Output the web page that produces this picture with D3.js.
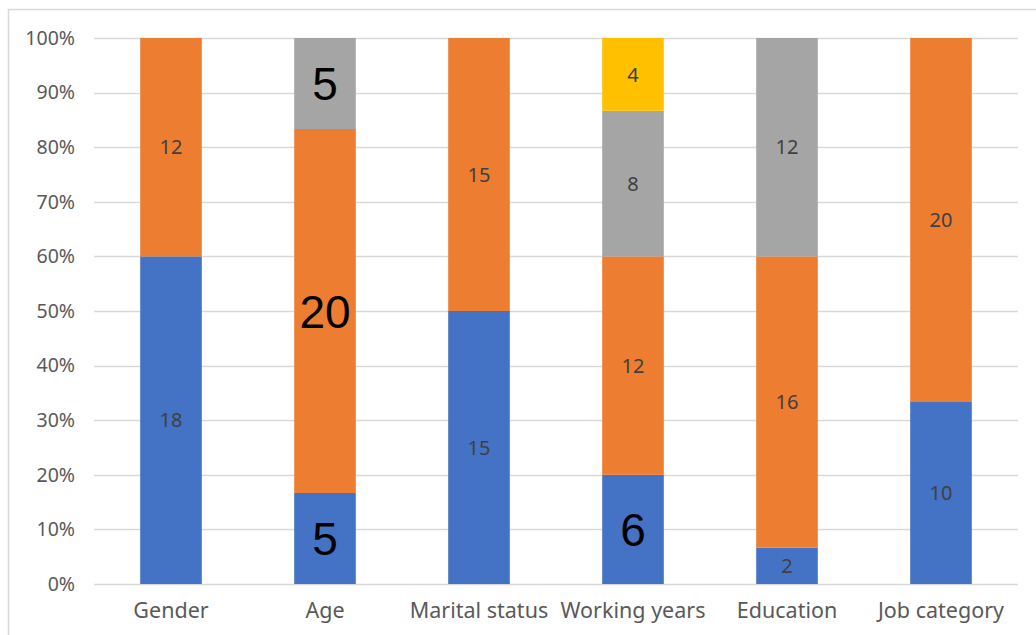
<!DOCTYPE html>
<html>
<head>
<meta charset="utf-8">
<script src="https://cdn.jsdelivr.net/npm/d3@7"></script>
<style>
  html, body { margin: 0; padding: 0; background: #fff; }
  svg { display: block; }
</style>
</head>
<body>
<svg id="chart" width="1036" height="635"></svg>
<script>
// ---- data ----
const categories = ["Gender", "Age", "Marital status", "Working years", "Education", "Job category"];
const seriesNames = ["s1", "s2", "s3", "s4"];
const s1Values = [18, 5, 15, 6, 2, 10];
const s2Values = [12, 20, 15, 12, 16, 20];
const s3Values = [0, 5, 0, 8, 12, 0];
const s4Values = [0, 0, 0, 4, 0, 0];
const yTickValues = [0, 0.1, 0.2, 0.3, 0.4, 0.5, 0.6, 0.7, 0.8, 0.9, 1.0];

// ---- style ----
const colors = ["#4472C4", "#ED7D31", "#A5A5A5", "#FFC000"];
const bigLabels = new Set(["Age|0", "Age|1", "Age|2", "Working years|0"]);
const fontFamily = "'Noto Sans', 'Open Sans', sans-serif";

const width = 1036, height = 635;
const margin = { left: 94, right: 18, top: 38, bottom: 51 };
const svg = d3.select("#chart");

// border
svg.append("rect")
  .attr("x", 8.5).attr("y", 9.5)
  .attr("width", 1040).attr("height", 640)
  .attr("fill", "none").attr("stroke", "#d9d9d9").attr("stroke-width", 1.5);

const rows = categories.map((c, i) => {
  const vals = [s1Values[i], s2Values[i], s3Values[i], s4Values[i]];
  const total = d3.sum(vals);
  const r = { category: c, total };
  seriesNames.forEach((s, k) => r[s] = vals[k]);
  return r;
});

const stack = d3.stack().keys(seriesNames).offset(d3.stackOffsetExpand);
const layers = stack(rows);

const x = d3.scaleBand()
  .domain(categories)
  .range([margin.left, width - margin.right])
  .paddingInner(0.6).paddingOuter(0.3);

const y = d3.scaleLinear().domain([0, 1]).range([height - margin.bottom, margin.top]);

// gridlines
svg.append("g")
  .selectAll("line")
  .data(yTickValues)
  .join("line")
  .attr("x1", margin.left).attr("x2", width - margin.right)
  .attr("y1", d => Math.round(y(d)) + 0.5).attr("y2", d => Math.round(y(d)) + 0.5)
  .attr("stroke", "#d9d9d9").attr("stroke-width", 1.5);

// y axis labels
const yAxis = d3.axisLeft(y).tickValues(yTickValues).tickFormat(d3.format(".0%")).tickSize(0).tickPadding(19);
const yg = svg.append("g").attr("transform", `translate(${margin.left},0)`).call(yAxis);
yg.select(".domain").remove();
yg.selectAll("text")
  .attr("fill", "#595959")
  .style("font-family", fontFamily)
  .style("font-size", "19.5px");

// x axis labels
const xAxis = d3.axisBottom(x).tickSize(0).tickPadding(19);
const xg = svg.append("g").attr("transform", `translate(0,${height - margin.bottom})`).call(xAxis);
xg.select(".domain").remove();
xg.selectAll("text")
  .attr("fill", "#595959")
  .style("font-family", fontFamily)
  .style("font-size", "21.5px");

// bars
layers.forEach((layer, k) => {
  const g = svg.append("g");
  g.selectAll("rect")
    .data(layer.filter(d => d.data[layer.key] > 0))
    .join("rect")
    .attr("x", d => x(d.data.category))
    .attr("width", x.bandwidth())
    .attr("y", d => y(d[1]))
    .attr("height", d => y(d[0]) - y(d[1]))
    .attr("fill", colors[k]);

  g.selectAll("text")
    .data(layer.filter(d => d.data[layer.key] > 0))
    .join("text")
    .attr("x", d => x(d.data.category) + x.bandwidth() / 2)
    .attr("y", d => (y(d[0]) + y(d[1])) / 2)
    .attr("text-anchor", "middle")
    .attr("dy", "0.36em")
    .each(function(d) {
      const big = bigLabels.has(d.data.category + "|" + k);
      d3.select(this)
        .attr("fill", big ? "#000" : "#404040")
        .style("font-family", big ? "'Liberation Sans', Arial, sans-serif" : fontFamily)
        .style("font-size", big ? "46px" : "20px");
    })
    .text(d => d.data[layer.key]);
});
</script>
</body>
</html>
